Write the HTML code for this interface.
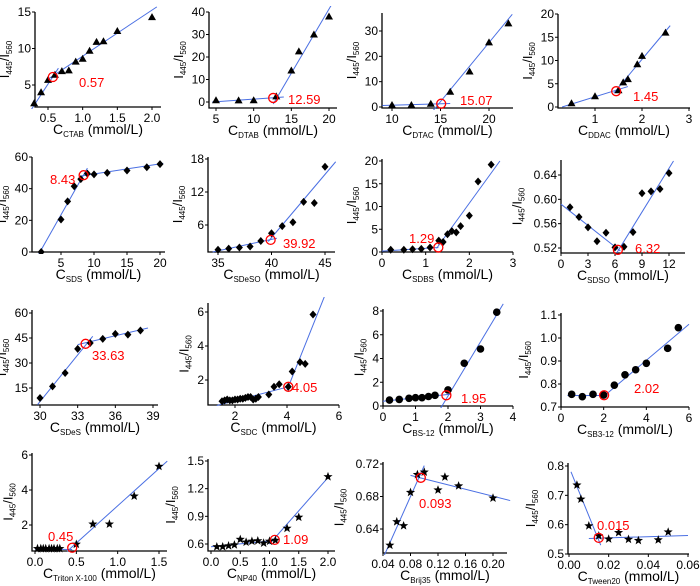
<!DOCTYPE html>
<html><head><meta charset="utf-8"><style>
html,body{margin:0;padding:0;background:#fff;width:700px;height:586px;overflow:hidden}
svg{display:block;font-family:"Liberation Sans",Arial,sans-serif}
</style></head><body>
<svg id="fig" width="700" height="586" viewBox="0 0 700 586" xmlns="http://www.w3.org/2000/svg"></svg>
<script>
// ---- data arrays ----
const ctabX=[0.3,0.4,0.5,0.6,0.7,0.8,0.9,1.0,1.1,1.2,1.3,1.5,2.0];
const ctabY=[2.5,4,5.7,6.4,6.9,7,8.2,8.6,9.7,10.9,11,12.4,14.3];
const dtabX=[5,8,10,13,15,16,18,20];
const dtabY=[0.8,0.7,0.8,2.5,14,22.5,30,38];
const dtacX=[10,12,14,16,18,20,22];
const dtacY=[0.8,0.8,1.3,6,14,25.5,33];
const ddacX=[0.5,1,1.5,1.6,1.7,1.9,2,2.5];
const ddacY=[0.8,2.3,3.6,5.3,6,9.2,11,16];
const sdsX=[2,5,6,7,8,9,10,12,15,18,20];
const sdsY=[0,20.5,32,41.5,46,49.5,49,50,51.5,53.5,55.5];
const sdesoX=[35,36,37,38,39,40,41,42,43,44,45];
const sdesoY=[1.5,1.7,1.9,2.1,3.1,4.5,5.8,6.5,10.2,10,16.6];
const sdbsX=[0.2,0.5,0.7,0.9,1.1,1.3,1.4,1.5,1.6,1.7,1.8,2,2.2,2.5];
const sdbsY=[0.5,0.5,0.6,0.7,1,2.5,2.2,3.9,4.6,4.3,5.7,8,15.5,19.2];
const sdsoX=[1,2,3,4,5,6,7,8,9,10,11,12];
const sdsoY=[0.587,0.571,0.554,0.531,0.545,0.521,0.522,0.546,0.61,0.613,0.617,0.643];
const sdesX=[30,31,32,33,34,35,36,37,38];
const sdesY=[9,16,24,38.5,42,44.5,47.5,47,49.5];
const sdcX=[1.5,1.6,1.7,1.8,1.9,2,2.1,2.2,2.3,2.4,2.5,2.6,2.7,2.8,2.9,3.3,3.5,3.7,4.05,4.2,4.5,4.7,5];
const sdcY=[0.75,0.8,0.85,0.8,0.8,0.85,0.85,0.9,0.9,0.95,1,1,0.85,0.9,1,1.15,1.6,1.75,1.6,2.5,3.05,2.95,5.85];
const bsX=[0.2,0.5,0.8,1,1.2,1.4,1.6,2,2.5,3,3.5];
const bsY=[0.5,0.55,0.65,0.7,0.7,0.8,0.9,1.35,3.6,4.8,7.9];
const sbX=[0.5,1,1.5,2,2.5,3,3.5,4,5,5.5];
const sbY=[0.755,0.745,0.755,0.752,0.795,0.84,0.862,0.89,0.955,1.045];
const tritonX=[0.03,0.07,0.1,0.13,0.17,0.2,0.23,0.27,0.3,0.5,0.7,0.9,1.2,1.5];
const tritonY=[0.65,0.65,0.65,0.65,0.65,0.65,0.65,0.65,0.65,0.9,2.05,2.05,3.65,5.35];
const np40X=[0.1,0.2,0.3,0.4,0.5,0.6,0.7,0.8,0.9,1,1.1,1.3,1.5,2];
const np40Y=[0.57,0.57,0.58,0.59,0.65,0.62,0.63,0.635,0.61,0.63,0.64,0.77,0.89,1.33];
const brijX=[0.05,0.06,0.07,0.08,0.09,0.1,0.12,0.13,0.15,0.2];
const brijY=[0.62,0.649,0.644,0.685,0.707,0.71,0.688,0.704,0.693,0.678];
const tweenX=[0.004,0.006,0.01,0.015,0.02,0.025,0.03,0.035,0.045,0.05];
const tweenY=[0.735,0.687,0.596,0.562,0.551,0.573,0.55,0.546,0.548,0.575];

const panels=[
 {id:'ctab',sub:'CTAB',X:ctabX,Y:ctabY,m:'tri',L:35,B:107,T:12,R:161,xa:[0.5,48,2.0,152],ya:[5,85,15,12],xt:['0.5','1.0','1.5','2.0'],yt:['5','10','15'],lines:[[0.25,1.5,0.65,7.3],[0.5,5.8,2.07,15.7]],c:[0.57,6.1],lab:'0.57',lx:79,ly:87},
 {id:'dtab',sub:'DTAB',X:dtabX,Y:dtabY,m:'tri',L:209,B:108,T:12,R:337,xa:[5,216,20,329],ya:[0,102,40,12],xt:['5','10','15','20'],yt:['0','10','20','30','40'],lines:[[4.5,0,14,2.2],[12.6,-0.9,20.7,45.3]],c:[12.59,1.8],lab:'12.59',lx:288,ly:104},
 {id:'dtac',sub:'DTAC',X:dtacX,Y:dtacY,m:'tri',L:382,B:108,T:13,R:513,xa:[10,392,20,489],ya:[0,107,30,31],xt:['10','15','20'],yt:['0','10','20','30'],lines:[[9,0.6,16,1.4],[13.9,-3,22.4,36.6]],c:[15.07,1.3],lab:'15.07',lx:460,ly:105},
 {id:'ddac',sub:'DDAC',X:ddacX,Y:ddacY,m:'tri',L:558,B:108,T:14,R:690,xa:[1,595,3,689],ya:[0,107,20,14],xt:['1','2','3'],yt:['0','5','10','15','20'],lines:[[0.3,0,1.7,4.4],[1.4,3,2.6,17.5]],c:[1.45,3.4],lab:'1.45',lx:633,ly:101},
 {id:'sds',sub:'SDS',X:sdsX,Y:sdsY,m:'dia',L:32,B:252,T:157,R:165,xa:[5,61,20,160],ya:[0,252,60,157],xt:['5','10','15','20'],yt:['0','20','40','60'],lines:[[1,-6,9,53],[8,48,20.5,56]],c:[8.43,48.5],lab:'8.43',lx:50,ly:184},
 {id:'sdeso',sub:'SDeSO',X:sdesoX,Y:sdesoY,m:'dia',L:208,B:252,T:157,R:335,xa:[35,218,45,325],ya:[6,225,18,159],xt:['35','40','45'],yt:['6','12','18'],lines:[[34.5,1.1,40.5,3.6],[39.7,3,46,17.5]],c:[39.92,3.3],lab:'39.92',lx:283,ly:248},
 {id:'sdbs',sub:'SDBS',X:sdbsX,Y:sdbsY,m:'dia',L:382,B:252,T:159,R:513,xa:[0,382,3,513],ya:[0,252,20,161],xt:['0','1','2','3'],yt:['0','5','10','15','20'],lines:[[0,0.2,1.29,1],[1.25,0.8,2.7,20]],c:[1.29,1],lab:'1.29',lx:409,ly:243},
 {id:'sdso',sub:'SDSO',X:sdsoX,Y:sdsoY,m:'dia',L:561,B:253,T:160,R:685,xa:[0,561,12,669],ya:[0.52,248,0.64,175],xt:['0','3','6','9','12'],yt:['0.52','0.56','0.60','0.64'],lines:[[0,0.592,6.6,0.515],[6.2,0.512,12.5,0.663]],c:[6.32,0.517],lab:'6.32',lx:635,ly:253},
 {id:'sdes',sub:'SDeS',X:sdesX,Y:sdesY,m:'dia',L:32,B:405,T:310,R:158,xa:[30,40,39,153],ya:[60,313,15,388],xt:['30','33','36','39'],yt:['15','30','45','60'],lines:[[29.8,5,34.2,46],[33,41,38.6,51]],c:[33.63,41.5],lab:'33.63',lx:92,ly:360},
 {id:'sdc',sub:'SDC',X:sdcX,Y:sdcY,m:'dia',L:208,B:405,T:303,R:339,xa:[2,235,6,339],ya:[2,380,6,312],xt:['2','4','6'],yt:['2','4','6'],lines:[[1.3,0.5,4.05,1.6],[4,1.4,5.45,6.95]],c:[4.05,1.6],lab:'4.05',lx:292,ly:392},
 {id:'bs',sub:'BS-12',X:bsX,Y:bsY,m:'dot',L:383,B:406,T:309,R:513,xa:[0,383,4,513],ya:[0,406,8,311],xt:['0','1','2','3','4'],yt:['0','2','4','6','8'],lines:[[0,0.4,2.1,1],[1.75,-0.3,3.7,8.6]],c:[1.95,0.9],lab:'1.95',lx:461,ly:403},
 {id:'sb',sub:'SB3-12',X:sbX,Y:sbY,m:'dot',L:561,B:407,T:313,R:689,xa:[0,561,6,689],ya:[0.7,407,1.1,315],xt:['0','2','4','6'],yt:['0.7','0.8','0.9','1.0','1.1'],lines:[[0.3,0.75,2.05,0.75],[2.05,0.75,6,1.06]],c:[2.02,0.751],lab:'2.02',lx:634,ly:393},
 {id:'triton',sub:'Triton X-100',X:tritonX,Y:tritonY,m:'star',L:32,B:551,T:453,R:167,xa:[0,35,1.5,159],ya:[2,525,6,455],xt:['0.0','0.5','1.0','1.5'],yt:['2','4','6'],lines:[[0,0.62,0.45,0.6],[0.39,0.5,1.6,5.65]],c:[0.45,0.7],lab:'0.45',lx:48,ly:541},
 {id:'np40',sub:'NP40',X:np40X,Y:np40Y,m:'star',L:208,B:551,T:459,R:335,xa:[0,211,2,328],ya:[0.6,544,1.5,461],xt:['0.0','0.5','1.0','1.5','2.0'],yt:['0.6','0.9','1.2','1.5'],lines:[[0,0.57,1.1,0.64],[1.0,0.6,2.0,1.32]],c:[1.09,0.645],lab:'1.09',lx:283,ly:544},
 {id:'brij',sub:'Brij35',X:brijX,Y:brijY,m:'star',L:383,B:553,T:462,R:507,xa:[0.04,383,0.2,493],ya:[0.64,529,0.72,464],xt:['0.04','0.08','0.12','0.16','0.20'],yt:['0.64','0.68','0.72'],lines:[[0.04,0.604,0.1,0.718],[0.08,0.706,0.225,0.675]],c:[0.095,0.703],lab:'0.093',lx:419,ly:508},
 {id:'tween',sub:'Tween20',X:tweenX,Y:tweenY,m:'star',L:568,B:554,T:463,R:689,xa:[0,569,0.06,688],ya:[0.5,554,0.8,466],xt:['0.00','0.02','0.04','0.06'],yt:['0.5','0.6','0.7','0.8'],lines:[[0.001,0.78,0.016,0.53],[0.01,0.553,0.06,0.563]],c:[0.015,0.555],lab:'0.015',lx:597,ly:530}
];

const NS='http://www.w3.org/2000/svg';
const svg=document.getElementById('fig');
function mk(tag,attrs,parent){const e=document.createElementNS(NS,tag);for(const k in attrs)e.setAttribute(k,attrs[k]);(parent||svg).appendChild(e);return e;}
function lin(a){const k=(a[3]-a[1])/(a[2]-a[0]);return v=>a[1]+(v-a[0])*k;}

panels.forEach(p=>{
  const g=mk('g',{});
  
  
  const sx=lin(p.xa), sy=lin(p.ya);
  const ax=mk('path',{d:`M${p.L},${p.T}V${p.B}H${p.R}`,fill:'none',stroke:'#000','stroke-width':1.3},g);
  
  
  p.xt.forEach(t=>{const x=sx(parseFloat(t));
    mk('line',{x1:x,y1:p.B,x2:x,y2:p.B+3,stroke:'#000'},g);
    const tx=mk('text',{x:x,y:p.B+15,'font-size':12,'text-anchor':'middle'},g);tx.textContent=t;
    
    });
  let mc=0;
  p.yt.forEach(t=>{const y=sy(parseFloat(t));mc=Math.max(mc,t.length);
    mk('line',{x1:p.L-3,y1:y,x2:p.L,y2:y,stroke:'#000'},g);
    const tx=mk('text',{x:p.L-4,y:y+4,'font-size':12,'text-anchor':'end'},g);tx.textContent=t;
    
    });
  const cid='c'+p.id;
  const cp=mk('clipPath',{id:cid},g);mk('rect',{x:p.L-6,y:p.T-6,width:p.R-p.L+12,height:p.B-p.T+8},cp);
  const pg=mk('g',{'clip-path':`url(#${cid})`},g);
  p.lines.forEach(l=>{const ln=mk('line',{x1:sx(l[0]),y1:sy(l[1]),x2:sx(l[2]),y2:sy(l[3]),stroke:'#4a6fe3','stroke-width':1},pg);
    
    });
  p.X.forEach((xv,i)=>{const x=sx(xv),y=sy(p.Y[i]);let e;
    if(p.m==='tri')e=mk('polygon',{points:`${x},${y-4} ${x-4},${y+3} ${x+4},${y+3}`,fill:'#000'},pg);
    else if(p.m==='dia')e=mk('polygon',{points:`${x},${y-4} ${x+3.5},${y} ${x},${y+4} ${x-3.5},${y}`,fill:'#000'},pg);
    else if(p.m==='dot')e=mk('circle',{cx:x,cy:y,r:3.8,fill:'#000'},pg);
    else{let pts=[];for(let k=0;k<10;k++){const r=k%2?2:4.8,a=-Math.PI/2+k*Math.PI/5;pts.push((x+r*Math.cos(a)).toFixed(1)+','+(y+r*Math.sin(a)).toFixed(1));}
      e=mk('polygon',{points:pts.join(' '),fill:'#000'},pg);}
    
    });
  const cc=mk('circle',{cx:sx(p.c[0]),cy:sy(p.c[1]),r:4.5,fill:'none',stroke:'#f00','stroke-width':1.3},g);
  
  
  const lb=mk('text',{x:p.lx,y:p.ly,'font-size':13,fill:'#f00'},g);lb.textContent=p.lab;
  
  
  const xt=mk('text',{x:(p.L+p.R)/2,y:p.B+27,'font-size':14,'text-anchor':'middle'},g);
  xt.innerHTML=`C<tspan font-size="8" dy="3">${p.sub}</tspan><tspan dy="-3"> (mmol/L)</tspan>`;
  
  
  const yx=p.L-(4+mc*6.6+9), yc=(p.T+p.B)/2;
  const yt=mk('text',{x:0,y:0,'font-size':13,'text-anchor':'middle',transform:`translate(${yx},${yc}) rotate(-90)`},g);
  yt.innerHTML=`I<tspan font-size="8" dy="3">445</tspan><tspan dy="-3">/I</tspan><tspan font-size="8" dy="3">560</tspan>`;
  
  
});
</script>
</body></html>
